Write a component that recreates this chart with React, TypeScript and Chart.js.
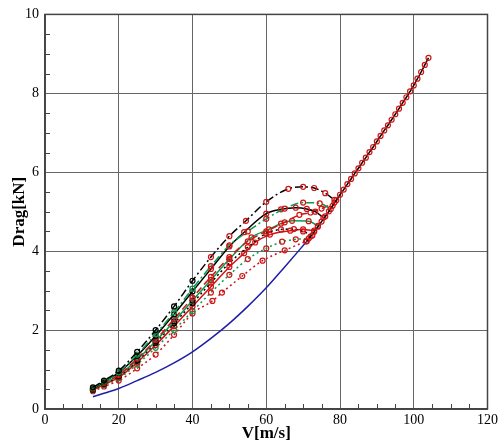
import React, { useEffect, useRef } from "react";
import { Chart, registerables } from "chart.js";

Chart.register(...registerables);

// ---- data ----
const xTicks = [0, 20, 40, 60, 80, 100, 120];
const yTicks = [0, 2, 4, 6, 8, 10];

const blueV = [13, 16, 20, 25, 30, 35, 40, 45, 50, 55, 60, 65, 71];
const blueD = [0.31, 0.4, 0.52, 0.72, 0.93, 1.17, 1.45, 1.79, 2.17, 2.6, 3.07, 3.6, 4.25];

const mainV = [71, 72, 73, 74, 75, 76, 77, 78, 79, 80, 81, 82, 83, 84, 85, 86, 87, 88, 89, 90, 91, 92, 93, 94, 95, 96, 97, 98, 99, 100, 101, 102, 103, 104];
const mainD = [4.25, 4.37, 4.49, 4.62, 4.75, 4.88, 5.01, 5.15, 5.29, 5.43, 5.56, 5.7, 5.83, 5.97, 6.1, 6.24, 6.37, 6.51, 6.64, 6.78, 6.92, 7.06, 7.19, 7.33, 7.47, 7.61, 7.76, 7.9, 8.05, 8.2, 8.37, 8.54, 8.72, 8.9];

const blackDashDotV = [13, 16, 20, 25, 30, 35, 40, 45, 50, 54.5, 60, 66, 70, 73, 76, 78.5];
const blackDashDotD = [0.55, 0.72, 0.97, 1.45, 2.0, 2.6, 3.25, 3.85, 4.38, 4.77, 5.25, 5.58, 5.63, 5.6, 5.47, 5.3];

const greenDashDotV = [13, 16, 20, 25, 30, 35, 40, 45, 50, 55, 60, 65, 70, 74.5, 77.5];
const greenDashDotD = [0.53, 0.7, 0.93, 1.38, 1.9, 2.45, 3.05, 3.62, 4.15, 4.5, 4.82, 5.08, 5.23, 5.21, 5.07];

const blackSolidV = [13, 16, 20, 25, 30, 35, 40, 45, 50, 54, 60, 64, 68, 71, 73.3, 75.5];
const blackSolidD = [0.52, 0.69, 0.92, 1.35, 1.85, 2.4, 2.98, 3.55, 4.12, 4.48, 4.95, 5.06, 5.1, 5.07, 5.0, 4.85];

const redDashedV = [13, 16, 20, 25, 30, 35, 40, 45, 50, 55, 60, 65, 69, 72, 75, 78.5];
const redDashedD = [0.5, 0.66, 0.86, 1.28, 1.75, 2.28, 2.82, 3.35, 3.85, 4.25, 4.5, 4.73, 4.92, 4.98, 5.08, 5.23];

const greenSolidV = [13, 16, 20, 25, 30, 35, 40, 45, 50, 56, 60.7, 64, 67, 71.5, 74];
const greenSolidD = [0.5, 0.65, 0.85, 1.25, 1.72, 2.22, 2.75, 3.27, 3.8, 4.35, 4.55, 4.7, 4.77, 4.76, 4.64];

const blackDottedV = [13, 16, 20, 25, 30, 35, 40, 45, 50, 55, 60, 64, 67.5, 70, 72.5];
const blackDottedD = [0.49, 0.64, 0.83, 1.22, 1.68, 2.17, 2.68, 3.2, 3.7, 4.1, 4.45, 4.55, 4.56, 4.5, 4.4];

const redSolidV = [13, 16, 20, 25, 30, 35, 40, 45, 50, 54, 57, 61, 66.5, 70, 73];
const redSolidD = [0.48, 0.62, 0.8, 1.18, 1.62, 2.1, 2.6, 3.1, 3.6, 3.95, 4.22, 4.42, 4.52, 4.55, 4.52];

const greenDottedV = [13, 16, 20, 25, 30, 35, 40, 45, 50, 55, 60, 64.3, 68, 71.5];
const greenDottedD = [0.47, 0.6, 0.78, 1.13, 1.55, 2.0, 2.48, 2.95, 3.4, 3.8, 4.07, 4.24, 4.3, 4.32];

const redDottedV = [13, 16, 20, 25, 30, 35, 40, 45.4, 48, 53.5, 59, 65, 70.8];
const redDottedD = [0.45, 0.57, 0.72, 1.03, 1.38, 1.88, 2.42, 2.74, 2.95, 3.37, 3.76, 4.02, 4.25];

// ---- styles ----
const BLACK = "#000000";
const GREEN = "#0a9a4c";
const RED = "#d01414";
const BLUE = "#1e1eaa";
const SERIF = "'Liberation Serif', 'Times New Roman', serif";

const zip = (xs: number[], ys: number[]) => xs.map((x, i) => ({ x, y: ys[i] }));

function curve(label: string, xs: number[], ys: number[], color: string, dash: number[], lowMarker: string) {
  return {
    label,
    data: zip(xs, ys),
    borderColor: color,
    borderWidth: 1.5,
    borderDash: dash,
    cubicInterpolationMode: "monotone",
    pointRadius: 2.5,
    pointBorderWidth: 1.2,
    pointBackgroundColor: "rgba(255,255,255,0)",
    pointBorderColor: (ctx: any) => (ctx.raw && ctx.raw.x < 45 ? lowMarker : RED),
  };
}

const DASHDOT = [8, 3, 2, 3];
const DASHED = [7, 4];
const DOTTED = [2, 3];

const minorTicks = {
  id: "minorTicks",
  afterDatasetsDraw(chart: any) {
    const { ctx, chartArea, scales } = chart;
    const xs = scales.x;
    const ys = scales.y;
    ctx.save();
    ctx.strokeStyle = "#444";
    ctx.lineWidth = 1;
    ctx.beginPath();
    for (let v = 5; v < 120; v += 5) {
      if (v % 20 === 0) continue;
      const px = Math.round(xs.getPixelForValue(v)) + 0.5;
      ctx.moveTo(px, chartArea.bottom);
      ctx.lineTo(px, chartArea.bottom - 5);
    }
    for (let v = 0.5; v < 10; v += 0.5) {
      if (Math.abs(v % 2) < 1e-6) continue;
      const py = Math.round(ys.getPixelForValue(v)) + 0.5;
      ctx.moveTo(chartArea.left, py);
      ctx.lineTo(chartArea.left + 5, py);
    }
    ctx.stroke();
    ctx.lineWidth = 1.5;
    ctx.strokeRect(chartArea.left, chartArea.top, chartArea.right - chartArea.left, chartArea.bottom - chartArea.top);
    ctx.restore();
  },
};

export default function App() {
  const ref = useRef<HTMLCanvasElement | null>(null);

  useEffect(() => {
    if (!ref.current) return;
    const chart = new Chart(ref.current, {
      type: "line",
      data: {
        datasets: [
          {
            label: "main",
            data: zip(mainV, mainD),
            borderColor: BLACK,
            borderWidth: 1.5,
            cubicInterpolationMode: "monotone",
            pointRadius: 2.5,
            pointBorderWidth: 1.2,
            pointBackgroundColor: "rgba(255,255,255,0)",
            pointBorderColor: RED,
          },
          curve("blackDashDot", blackDashDotV, blackDashDotD, BLACK, DASHDOT, BLACK),
          curve("greenDashDot", greenDashDotV, greenDashDotD, GREEN, DASHDOT, GREEN),
          curve("blackSolid", blackSolidV, blackSolidD, BLACK, [], BLACK),
          curve("redDashed", redDashedV, redDashedD, RED, DASHED, RED),
          curve("greenSolid", greenSolidV, greenSolidD, GREEN, [], BLACK),
          curve("blackDotted", blackDottedV, blackDottedD, BLACK, DOTTED, BLACK),
          curve("redSolid", redSolidV, redSolidD, RED, [], RED),
          curve("greenDotted", greenDottedV, greenDottedD, GREEN, DOTTED, GREEN),
          curve("redDotted", redDottedV, redDottedD, RED, DOTTED, RED),
          {
            label: "blue",
            data: zip(blueV, blueD),
            borderColor: BLUE,
            borderWidth: 1.5,
            cubicInterpolationMode: "monotone",
            pointRadius: 0,
          },
        ],
      },
      options: {
        animation: false,
        responsive: false,
        layout: { padding: { left: 0, right: 11, top: 10.7, bottom: 0 } },
        plugins: { legend: { display: false }, tooltip: { enabled: false } },
        scales: {
          x: {
            type: "linear",
            min: 0,
            max: 120,
            afterBuildTicks: (s: any) => {
              s.ticks = xTicks.map((v) => ({ value: v }));
            },
            afterFit: (s: any) => {
              s.height = 37;
            },
            grid: { color: "#666", lineWidth: 1, drawTicks: false },
            border: { color: "#444", width: 1.5 },
            ticks: { color: "#000", padding: 3, font: { family: SERIF, size: 14 }, maxRotation: 0 },
            title: {
              display: true,
              text: "V[m/s]",
              color: "#000",
              font: { family: SERIF, size: 17, weight: "bold" },
              padding: { top: 0, bottom: 2 },
            },
          },
          y: {
            type: "linear",
            min: 0,
            max: 10,
            afterBuildTicks: (s: any) => {
              s.ticks = yTicks.map((v) => ({ value: v }));
            },
            afterFit: (s: any) => {
              s.width = 45;
            },
            grid: { color: "#666", lineWidth: 1, drawTicks: false },
            border: { color: "#444", width: 1.5 },
            ticks: { color: "#000", padding: 6, font: { family: SERIF, size: 14 } },
            title: {
              display: true,
              text: "Drag[kN]",
              color: "#000",
              font: { family: SERIF, size: 17, weight: "bold" },
              padding: { top: 9, bottom: 0 },
            },
          },
        },
      } as any,
      plugins: [minorTicks],
    });
    return () => chart.destroy();
  }, []);

  return (
    <div style={{ position: "fixed", left: 0, top: 0, width: 501, height: 446, background: "#fff" }}>
      <canvas ref={ref} width={501} height={446} style={{ width: 501, height: 446, display: "block" }} />
    </div>
  );
}
